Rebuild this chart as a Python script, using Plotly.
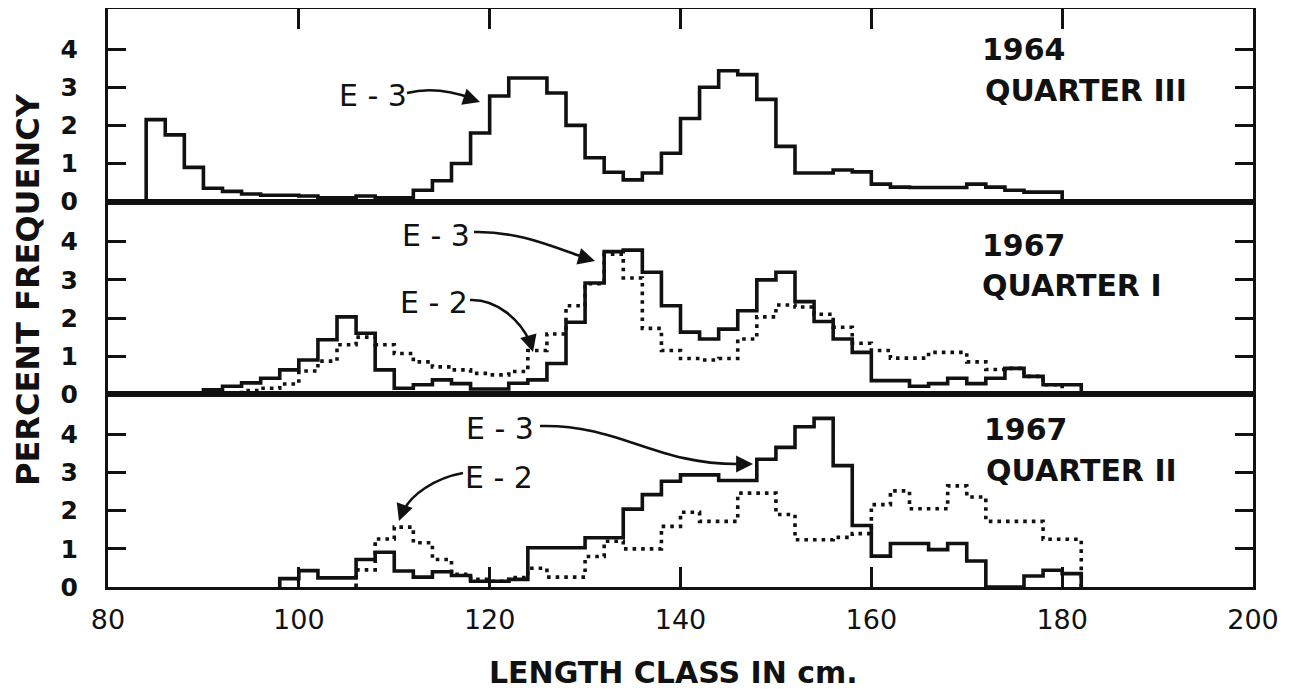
import plotly.graph_objects as go
from plotly.subplots import make_subplots

# ---------------- data (percent frequency per 2-cm length class) ----------------
BIN_WIDTH = 2
x_ticks = [80, 100, 120, 140, 160, 180, 200]
y_ticks = [0, 1, 2, 3, 4]

# 1964, quarter III  (E-3 only)
q3_1964_start = 84
q3_1964_e3 = [2.15, 1.75, 0.9, 0.35, 0.27, 0.2, 0.17, 0.17, 0.15, 0.1, 0.1, 0.15,
              0.1, 0.1, 0.3, 0.55, 1.0, 1.8, 2.77, 3.24, 3.24, 2.85, 2.0, 1.15,
              0.77, 0.57, 0.75, 1.27, 2.18, 3.0, 3.43, 3.33, 2.68, 1.45, 0.75, 0.75,
              0.83, 0.78, 0.46, 0.38, 0.37, 0.37, 0.37, 0.46, 0.38, 0.3, 0.25, 0.25]

# 1967, quarter I
q1_1967_e3_start = 90
q1_1967_e3 = [0.12, 0.21, 0.3, 0.42, 0.64, 0.9, 1.43, 2.03, 1.6, 0.64,
              0.16, 0.25, 0.38, 0.28, 0.14, 0.14, 0.29, 0.38, 0.81, 1.89,
              2.92, 3.74, 3.78, 3.2, 2.32, 1.63, 1.45, 1.71, 2.19, 3.0,
              3.2, 2.43, 1.91, 1.45, 1.1, 0.36, 0.36, 0.21, 0.28, 0.42,
              0.28, 0.42, 0.68, 0.47, 0.25, 0.25]
q1_1967_e2_start = 94
q1_1967_e2 = [0.1, 0.16, 0.27, 0.61, 0.87, 1.3, 1.5, 1.3, 1.07, 0.85,
              0.72, 0.64, 0.55, 0.51, 0.6, 1.15, 1.58, 2.32, 2.9, 3.67,
              3.05, 1.73, 1.15, 0.94, 0.9, 0.94, 1.45, 2.03, 2.34, 2.29,
              2.1, 1.76, 1.34, 1.15, 0.95, 0.95, 1.1, 1.1, 0.85, 0.65,
              0.68, 0.47, 0.25]

# 1967, quarter II
q2_1967_e3_start = 98
q2_1967_e3 = [0.22, 0.43, 0.24, 0.24, 0.72, 0.91, 0.42, 0.26, 0.4, 0.3,
              0.15, 0.15, 0.2, 1.03, 1.03, 1.03, 1.29, 1.29, 2.04, 2.42,
              2.77, 2.94, 2.94, 2.79, 2.79, 3.35, 3.66, 4.2, 4.42, 3.18,
              1.61, 0.81, 1.14, 1.14, 0.98, 1.14, 0.68, 0.0, 0.0, 0.29,
              0.44, 0.35]
q2_1967_e2_start = 106
q2_1967_e2 = [0.45, 1.26, 1.57, 1.16, 0.72, 0.33, 0.2, 0.15, 0.25, 0.49,
              0.26, 0.26, 0.8, 1.2, 1.0, 1.0, 1.59, 1.96, 1.72, 1.72,
              2.46, 2.46, 1.9, 1.24, 1.24, 1.3, 1.4, 2.16, 2.52, 2.05,
              2.05, 2.65, 2.36, 1.72, 1.72, 1.72, 1.25, 1.25]

panel_years = ["1964", "1967", "1967"]
panel_quarters = ["QUARTER III", "QUARTER I", "QUARTER II"]


def step_xy(start, vals):
    edges = [start + BIN_WIDTH * i for i in range(len(vals) + 1)]
    xs = [edges[0]] + edges + [edges[-1]]
    ys = [0] + list(vals) + [vals[-1], 0]
    return xs, ys


FONT = "DejaVu Sans"
INK = "#111111"

fig = make_subplots(rows=3, cols=1, shared_xaxes=True, vertical_spacing=0)

solid = dict(color=INK, width=3.6, shape="hv")
dotted = dict(color=INK, width=3.6, shape="hv", dash="3.6px,5px")

for row, start, vals, style in [
    (1, q3_1964_start, q3_1964_e3, solid),
    (2, q1_1967_e2_start, q1_1967_e2, dotted),
    (2, q1_1967_e3_start, q1_1967_e3, solid),
    (3, q2_1967_e2_start, q2_1967_e2, dotted),
    (3, q2_1967_e3_start, q2_1967_e3, solid),
]:
    xs, ys = step_xy(start, vals)
    fig.add_trace(go.Scatter(x=xs, y=ys, mode="lines", line=style,
                             showlegend=False, hoverinfo="skip"), row=row, col=1)

axis_common = dict(showline=True, linecolor=INK, linewidth=3, mirror=True,
                   showgrid=False, zeroline=False)

for r in (1, 2, 3):
    fig.update_yaxes(range=[0, 5.05], tickvals=y_ticks, ticks="inside",
                     ticklen=18, tickwidth=3, tickcolor=INK,
                     **{**axis_common, "mirror": "allticks"},
                     tickfont=dict(family=FONT, size=25, color=INK, weight="bold"),
                     ticklabelstandoff=22, row=r, col=1)
    fig.update_xaxes(range=[80, 200], tickvals=x_ticks, **axis_common,
                     row=r, col=1)

fig.update_xaxes(ticks="inside", ticklen=20, tickwidth=3, tickcolor=INK,
                 side="top", showticklabels=False, row=1, col=1)
fig.update_xaxes(ticks="", row=2, col=1)
fig.update_xaxes(ticks="inside", ticklen=20, tickwidth=3, tickcolor=INK,
                 showticklabels=True, ticklabelstandoff=7,
                 tickfont=dict(family=FONT, size=27, color=INK),
                 row=3, col=1)

# pixel -> paper helpers (plot area in page pixels: 108..1253 x 9..587)
L, R, T, B = 108, 1253, 9, 587


def px(xp):
    return (xp - L) / (R - L)


def py(yp):
    return (B - yp) / (B - T)


annotations = []


def label(text, xp, yp, size, anchor="left", weight="bold"):
    annotations.append(dict(text=text, x=px(xp), y=py(yp), xref="paper", yref="paper",
                            xanchor=anchor, yanchor="middle", showarrow=False,
                            font=dict(family=FONT, size=size, color=INK, weight=weight)))


# panel labels
label(panel_years[0], 980, 50, 30)
label(panel_quarters[0], 983, 91, 30)
label(panel_years[1], 980, 245, 30)
label(panel_quarters[1], 980, 285, 30)
label(panel_years[2], 982, 429, 30)
label(panel_quarters[2], 984, 470, 30)

# cohort labels
label("E - 3", 373, 96, 30, anchor="center", weight="normal")
label("E - 3", 436, 235, 30, anchor="center", weight="normal")
label("E - 2", 434, 302, 30, anchor="center", weight="normal")
label("E - 3", 500, 428, 30, anchor="center", weight="normal")
label("E - 2", 499, 477, 30, anchor="center", weight="normal")

# axis titles
annotations.append(dict(text="LENGTH CLASS IN cm.", x=px(673), y=py(672), xref="paper",
                        yref="paper", xanchor="center", yanchor="middle", showarrow=False,
                        font=dict(family=FONT, size=30, color=INK, weight="bold")))
annotations.append(dict(text="PERCENT FREQUENCY", x=px(28), y=py(290), xref="paper",
                        yref="paper", xanchor="center", yanchor="middle", showarrow=False,
                        textangle=-90,
                        font=dict(family=FONT, size=32, color=INK, weight="bold")))

# curved leader lines (page pixels)
curves = [
    [(407, 93), (430, 87), (455, 92), (474, 99)],
    [(474, 232), (520, 231), (555, 248), (586, 258)],
    [(470, 300), (497, 299), (520, 320), (530, 342)],
    [(540, 426), (620, 424), (655, 465), (740, 464)],
    [(463, 473), (435, 478), (410, 495), (403, 512)],
]
shapes = []
for c in curves:
    (x0, y0), (x1, y1), (x2, y2), (x3, y3) = c
    path = "M {:.5f},{:.5f} C {:.5f},{:.5f} {:.5f},{:.5f} {:.5f},{:.5f}".format(
        px(x0), py(y0), px(x1), py(y1), px(x2), py(y2), px(x3), py(y3))
    shapes.append(dict(type="path", path=path, xref="paper", yref="paper",
                       line=dict(color=INK, width=2.6)))

# arrow heads (head position, tail offset in pixels)
heads = [((480, 102), (-12, -4)), ((595, 261), (-14, -4)), ((533, 352), (-4, -14)),
         ((753, 464), (-16, 0)), ((399, 521), (5, -14))]
for (hx, hy), (ax, ay) in heads:
    annotations.append(dict(text="", x=px(hx), y=py(hy), xref="paper", yref="paper",
                            showarrow=True, ax=ax, ay=ay, arrowhead=2, arrowsize=1.3,
                            arrowwidth=2.6, arrowcolor=INK))

# the page adds an 8px body margin, so the figure is 8px smaller than the window
fig.update_layout(width=1284, height=681, margin=dict(l=100, r=39, t=1, b=102),
                  paper_bgcolor="white", plot_bgcolor="white", showlegend=False,
                  annotations=annotations, shapes=shapes)

fig.write_html("out.html")
